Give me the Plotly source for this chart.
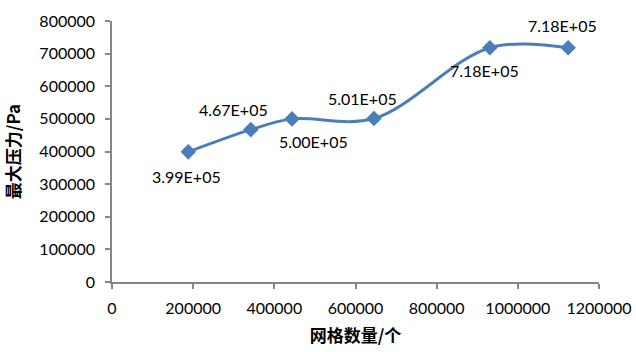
import plotly.graph_objects as go

grid_counts = [188000, 342000, 443500, 645500, 931000, 1124000]
max_pressure = [399000, 467000, 500000, 501000, 718000, 718000]
labels = ["3.99E+05", "4.67E+05", "5.00E+05", "5.01E+05", "7.18E+05", "7.18E+05"]
label_shift_x = [-2, -17, 22, -11, -5, -6]
label_shift_y = [-25, 20, -23, 20, -23, 22]

x_ticks = [0, 200000, 400000, 600000, 800000, 1000000, 1200000]
y_ticks = [0, 100000, 200000, 300000, 400000, 500000, 600000, 700000, 800000]

tick_font = dict(family="Lato, Open Sans, sans-serif", size=16, color="#000000")
title_font = dict(family="Noto Sans CJK SC", size=17, color="#000000")

fig = go.Figure()
fig.add_trace(go.Scatter(
    x=grid_counts, y=max_pressure,
    mode="lines+markers",
    line=dict(color="#4A7EBB", width=3, shape="spline", smoothing=1.0),
    marker=dict(symbol="diamond", size=12, color="#4A7EBB"),
    showlegend=False,
    hoverinfo="skip",
))

for xv, yv, t, sx, sy in zip(grid_counts, max_pressure, labels, label_shift_x, label_shift_y):
    fig.add_annotation(x=xv, y=yv, text=t, showarrow=False,
                       xshift=sx, yshift=sy, font=tick_font)

fig.update_layout(
    width=636, height=352,
    margin=dict(l=112, r=37, t=21, b=70),
    paper_bgcolor="white", plot_bgcolor="white",
)
fig.update_xaxes(
    range=[0, 1200000], tickvals=x_ticks, ticktext=[str(v) for v in x_ticks],
    showgrid=False, zeroline=False, automargin=False,
    showline=True, linecolor="#868686", linewidth=1.5,
    ticks="outside", ticklen=5, tickcolor="#868686", tickwidth=1.5,
    tickfont=tick_font, ticklabelstandoff=6,
    title=dict(text="<b>网格数量/个</b>", font=title_font, standoff=14),
)
fig.update_yaxes(
    range=[0, 800000], tickvals=y_ticks, ticktext=[str(v) for v in y_ticks],
    showgrid=False, zeroline=False, automargin=False,
    showline=True, linecolor="#868686", linewidth=1.5,
    ticks="outside", ticklen=5, tickcolor="#868686", tickwidth=1.5,
    tickfont=tick_font, ticklabelstandoff=7,
    title=dict(text="<b>最大压力/Pa</b>", font=title_font, standoff=16),
)

fig.write_html("out.html", config={"displayModeBar": False})
